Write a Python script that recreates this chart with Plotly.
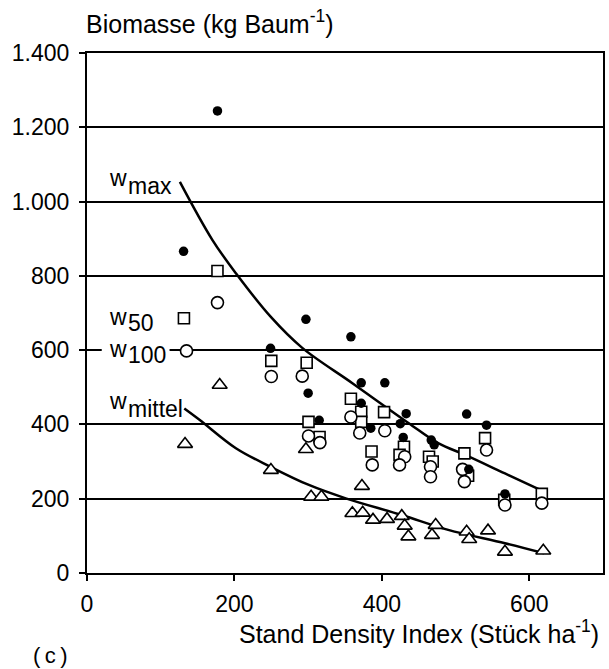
import plotly.graph_objects as go

# ---- data ----
wmax_x = [177, 131, 249, 297, 358, 300, 372, 404, 372, 433, 425, 315, 385, 429, 467, 471, 515, 542, 518, 567]
wmax_y = [1244, 866, 605, 683, 636, 484, 512, 512, 457, 429, 402, 411, 390, 365, 358, 345, 428, 398, 279, 213]

w50_x = [177, 131.5, 250, 298, 358, 372, 403, 300.5, 372, 315.5, 430, 424, 386, 464, 469, 540, 512, 517, 566, 617]
w50_y = [813, 686, 571, 566, 469, 434, 433, 407, 407, 366, 340, 318, 327, 313, 300, 363, 322, 262, 197, 213]

w100_x = [177, 135, 250, 292, 358, 370, 404, 300.5, 316, 431, 424, 387, 466, 466, 542, 509.5, 512, 567, 617]
w100_y = [728, 598, 529, 530, 420, 377, 383, 369, 351, 313, 291, 291, 286, 259, 331, 279, 246, 183, 188]

wmit_x = [180, 133, 249.5, 297, 304, 318, 373, 360, 374, 388, 407, 427, 431, 436, 473, 468, 515, 518.5, 544, 567, 619]
wmit_y = [506, 347, 277, 333, 205, 205, 234, 161, 162, 143, 145, 153, 127, 98, 129, 102, 111, 91, 114, 57, 60]

# fitted curves, points
cmax_x = [126, 170, 202, 250, 292, 360, 436, 477, 513, 567, 620]
cmax_y = [1053, 897, 807, 688, 606, 511, 404, 349, 318, 268, 219]

cmit_x = [132, 153, 202, 249, 301, 351, 427, 490, 567, 620]
cmit_y = [443, 412, 336, 286, 237, 201, 156, 116, 80, 53]

y_ticks = [0, 200, 400, 600, 800, 1000, 1200, 1400]
y_labels = ["0", "200", "400", "600", "800", "1.000", "1.200", "1.400"]
x_ticks = [0, 200, 400, 600]

FONT = "Liberation Sans, Arial, sans-serif"

fig = go.Figure()
fig.add_trace(go.Scatter(x=cmax_x, y=cmax_y, mode="lines", line=dict(color="black", width=2.5, shape="spline"), hoverinfo="skip"))
fig.add_trace(go.Scatter(x=cmit_x, y=cmit_y, mode="lines", line=dict(color="black", width=2.5, shape="spline"), hoverinfo="skip"))
fig.add_trace(go.Scatter(x=w50_x, y=w50_y, mode="markers",
                         marker=dict(symbol="square", size=11, color="white", line=dict(color="black", width=1.6))))
fig.add_trace(go.Scatter(x=w100_x, y=w100_y, mode="markers",
                         marker=dict(symbol="circle", size=12, color="white", line=dict(color="black", width=1.6))))
fig.add_trace(go.Scatter(x=wmax_x, y=wmax_y, mode="markers",
                         marker=dict(symbol="circle", size=9.5, color="black", line=dict(color="black", width=0))))
fig.add_trace(go.Scatter(x=wmit_x, y=wmit_y, mode="markers",
                         marker=dict(symbol="triangle-up", size=13, color="white", line=dict(color="black", width=1.6))))

def lab(x, y, text, size=23):
    fig.add_annotation(x=x, y=y, xref="x", yref="y", text=text, showarrow=False,
                       xanchor="left", yanchor="middle",
                       font=dict(family=FONT, size=size, color="black"), borderpad=0)

# curve labels (w + lowered index)
lab(28, 1064, "w")
lab(54, 1042, "max")
lab(28, 690, "w")
lab(54, 673, "50")
lab(28, 602, "w")
lab(54, 587, "100")
lab(28, 462, "w")
lab(54, 442, "mittel")

# white gap in 600 gridline behind w100 label
fig.add_shape(type="rect", xref="x", yref="y", x0=20, x1=112, y0=592, y1=611,
              fillcolor="white", line=dict(width=0), layer="above")

fig.add_annotation(xref="paper", yref="paper", x=-0.006, y=1.06, text="Biomasse (kg Baum<sup>-1</sup>)",
                   showarrow=False, xanchor="left", yanchor="middle", font=dict(family=FONT, size=25, color="black"))
fig.add_annotation(xref="paper", yref="paper", x=0.996, y=-0.113, text="Stand Density Index (Stück ha<sup>-1</sup>)",
                   showarrow=False, xanchor="right", yanchor="middle", font=dict(family=FONT, size=25, color="black"))
fig.add_annotation(xref="paper", yref="paper", x=-0.071, y=-0.158, text="(\u2009c\u2009)",
                   showarrow=False, xanchor="center", yanchor="middle", font=dict(family=FONT, size=22, color="black"))

fig.update_layout(
    width=609, height=669,
    margin=dict(l=87, r=4, t=53, b=96),
    paper_bgcolor="white", plot_bgcolor="white",
    showlegend=False,
    font=dict(family=FONT, size=23, color="black"),
    xaxis=dict(range=[0, 700], tickvals=x_ticks, showgrid=False, zeroline=False,
               showline=True, linecolor="black", linewidth=2, mirror=True,
               ticks="outside", ticklen=6, tickwidth=1.5, tickcolor="black",
               ticklabelstandoff=3, tickfont=dict(family=FONT, size=23, color="black")),
    yaxis=dict(range=[0, 1400], tickvals=y_ticks, ticktext=y_labels, showgrid=True,
               gridcolor="black", gridwidth=1.8, zeroline=False,
               showline=True, linecolor="black", linewidth=2, mirror=True,
               ticks="outside", ticklen=6, tickwidth=1.5, tickcolor="black",
               ticklabelstandoff=5, tickfont=dict(family=FONT, size=23, color="black")),
)

fig.write_html("out.html")
